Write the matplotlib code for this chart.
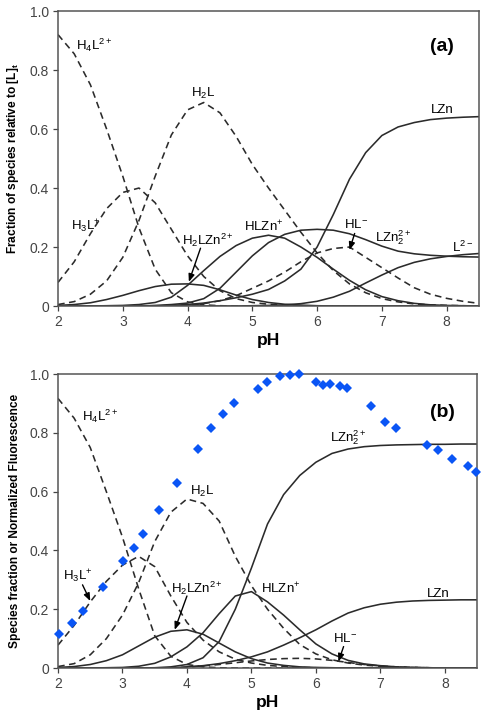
import matplotlib
matplotlib.use("Agg")
import matplotlib.pyplot as plt
from matplotlib.ticker import FuncFormatter

plt.rcParams['font.family'] = ['Liberation Sans', 'DejaVu Sans']
plt.rcParams['mathtext.fontset'] = 'custom'
plt.rcParams['mathtext.rm'] = 'Liberation Sans'
plt.rcParams['mathtext.it'] = 'Liberation Sans:italic'
plt.rcParams['mathtext.bf'] = 'Liberation Sans:bold'
plt.rcParams['mathtext.default'] = 'rm'
plt.rcParams['lines.solid_joinstyle'] = 'round'
plt.rcParams['lines.dash_joinstyle'] = 'round'

# ---------------- data ----------------
pH = [2.0, 2.25, 2.5, 2.75, 3.0, 3.25, 3.5, 3.75, 4.0, 4.25, 4.5, 4.75, 5.0, 5.25,
      5.5, 5.75, 6.0, 6.25, 6.5, 6.75, 7.0, 7.25, 7.5, 7.75, 8.0, 8.25, 8.5]

# panel (a)
a_H4L = [0.92, 0.855, 0.75, 0.60, 0.44, 0.265, 0.125, 0.045, 0.014, 0.004, 0.001, 0, 0, 0,
         0, 0, 0, 0, 0, 0, 0, 0, 0, 0, 0, 0, 0]
a_H3L = [0.08, 0.15, 0.245, 0.33, 0.385, 0.40, 0.35, 0.26, 0.17, 0.10, 0.052, 0.025, 0.012, 0.006,
         0.003, 0.001, 0, 0, 0, 0, 0, 0, 0, 0, 0, 0, 0]
a_H2L = [0.005, 0.015, 0.04, 0.085, 0.165, 0.29, 0.44, 0.58, 0.665, 0.69, 0.655, 0.575, 0.48, 0.40,
         0.325, 0.25, 0.18, 0.12, 0.075, 0.045, 0.025, 0.014, 0.007, 0.004, 0.002, 0.001, 0.0]
a_HL = [0, 0, 0, 0, 0, 0, 0, 0, 0.003, 0.008, 0.018, 0.035, 0.06, 0.085,
        0.115, 0.15, 0.18, 0.195, 0.20, 0.165, 0.13, 0.095, 0.062, 0.04, 0.026, 0.016, 0.009]
a_H2LZn = [0.002, 0.005, 0.011, 0.022, 0.036, 0.052, 0.066, 0.074, 0.075, 0.07, 0.055, 0.037, 0.022, 0.012,
           0.006, 0.003, 0.001, 0, 0, 0, 0, 0, 0, 0, 0, 0, 0]
a_HLZn = [0, 0, 0, 0.001, 0.002, 0.005, 0.012, 0.03, 0.07, 0.12, 0.168, 0.205, 0.23, 0.24,
          0.23, 0.20, 0.165, 0.125, 0.087, 0.055, 0.032, 0.018, 0.009, 0.004, 0.002, 0.001, 0]
a_LZn2 = [0, 0, 0, 0, 0, 0, 0.002, 0.005, 0.01, 0.025, 0.06, 0.115, 0.17, 0.215,
          0.243, 0.257, 0.26, 0.257, 0.245, 0.225, 0.203, 0.186, 0.177, 0.172, 0.169, 0.167, 0.166]
a_L = [0, 0, 0, 0, 0, 0, 0, 0, 0, 0, 0, 0, 0.001, 0.002,
       0.004, 0.008, 0.016, 0.03, 0.05, 0.078, 0.105, 0.13, 0.148, 0.16, 0.168, 0.174, 0.178]
a_LZn = [0, 0, 0, 0, 0, 0, 0, 0.002, 0.005, 0.01, 0.018, 0.028, 0.04, 0.056,
         0.085, 0.125, 0.20, 0.31, 0.43, 0.52, 0.578, 0.607, 0.622, 0.632, 0.637, 0.64, 0.642]

# panel (b)
b_H4L = [0.917, 0.85, 0.75, 0.60, 0.445, 0.27, 0.11, 0.04, 0.012, 0.004, 0.001, 0, 0, 0,
         0, 0, 0, 0, 0, 0, 0, 0, 0, 0, 0, 0, 0]
b_H3L = [0.078, 0.145, 0.225, 0.295, 0.35, 0.38, 0.345, 0.245, 0.155, 0.095, 0.055, 0.03, 0.017, 0.009,
         0.005, 0.002, 0.001, 0, 0, 0, 0, 0, 0, 0, 0, 0, 0]
b_H2L = [0.005, 0.015, 0.045, 0.1, 0.18, 0.29, 0.43, 0.53, 0.575, 0.56, 0.5, 0.38, 0.28, 0.2,
         0.135, 0.08, 0.048, 0.028, 0.017, 0.01, 0.006, 0.003, 0.002, 0.001, 0, 0, 0]
b_HL = [0, 0, 0, 0, 0, 0, 0, 0, 0.003, 0.007, 0.012, 0.018, 0.024, 0.029,
        0.032, 0.033, 0.031, 0.026, 0.019, 0.012, 0.007, 0.004, 0.002, 0.001, 0, 0, 0]
b_H2LZn = [0.002, 0.005, 0.012, 0.025, 0.045, 0.075, 0.105, 0.125, 0.13, 0.115, 0.085, 0.055, 0.032, 0.017,
           0.009, 0.004, 0.002, 0.001, 0, 0, 0, 0, 0, 0, 0, 0, 0]
b_HLZn = [0, 0, 0, 0.001, 0.002, 0.006, 0.016, 0.038, 0.072, 0.12, 0.185, 0.245, 0.26, 0.225,
          0.18, 0.13, 0.082, 0.048, 0.026, 0.014, 0.008, 0.004, 0.002, 0.001, 0, 0, 0]
b_LZn2 = [0, 0, 0, 0, 0, 0, 0.001, 0.004, 0.012, 0.035, 0.09, 0.2, 0.34, 0.49,
          0.59, 0.655, 0.70, 0.73, 0.745, 0.753, 0.757, 0.759, 0.76, 0.761, 0.761, 0.762, 0.762]
b_LZn = [0, 0, 0, 0, 0, 0, 0, 0, 0.004, 0.008, 0.015, 0.025, 0.038, 0.055,
         0.078, 0.103, 0.13, 0.16, 0.187, 0.205, 0.217, 0.224, 0.228, 0.23, 0.231, 0.232, 0.232]

# normalized fluorescence (panel b)
fl_pH = [2.02, 2.21, 2.38, 2.69, 3.01, 3.18, 3.32, 3.57, 3.85, 4.17, 4.38, 4.56, 4.73, 5.10,
         5.24, 5.44, 5.60, 5.74, 6.00, 6.11, 6.22, 6.37, 6.48, 6.85, 7.07, 7.24, 7.73, 7.90,
         8.11, 8.36, 8.48]
fl_val = [0.115, 0.152, 0.194, 0.277, 0.365, 0.41, 0.455, 0.536, 0.629, 0.746, 0.815, 0.863,
          0.90, 0.95, 0.972, 0.995, 0.998, 0.999, 0.974, 0.964, 0.967, 0.96, 0.952, 0.89,
          0.837, 0.816, 0.758, 0.743, 0.71, 0.688, 0.668]

xticks = [2, 3, 4, 5, 6, 7, 8]
yticks = [0, 0.2, 0.4, 0.6, 0.8, 1.0]

# ---------------- style ----------------
LC = '#2b2b2b'
LW = 1.15
DASH = (4.2, 2.8)
FS = 9.5

fig = plt.figure(figsize=(4.88, 7.17), dpi=100)
ax1 = fig.add_axes([0.1189, 0.5732, 0.8627, 0.4114])
ax2 = fig.add_axes([0.1189, 0.0683, 0.8586, 0.4100])


def yfmt(v, _):
    return '0' if abs(v) < 1e-9 else f'{v:.1f}'


def style(ax, ylabel):
    ax.set_xlim(2, 8.5)
    ax.set_ylim(0, 1.0)
    ax.set_xticks(xticks)
    ax.set_yticks(yticks)
    ax.yaxis.set_major_formatter(FuncFormatter(yfmt))
    ax.tick_params(direction='out', length=3.5, width=0.9, colors='#444444',
                   labelsize=10, labelcolor='#444444', pad=3)
    for s in ax.spines.values():
        s.set_color('#555555')
        s.set_linewidth(1.1)
    ax.set_xlabel('pH', fontsize=12.5, fontweight='bold', labelpad=3)
    ax.set_ylabel(ylabel, fontsize=8.6, fontweight='bold', labelpad=6)


def dashed(ax, y):
    ax.plot(pH, y, color=LC, lw=LW, dashes=DASH, clip_on=True)


def solid(ax, y):
    ax.plot(pH, y, color=LC, lw=LW, clip_on=True)


arrow_kw = dict(arrowstyle='-|>,head_length=0.45,head_width=0.18', color='black', lw=1.0,
                shrinkA=0, shrinkB=0)

# ---- panel (a)
for y in (a_H4L, a_H3L, a_H2L, a_HL):
    dashed(ax1, y)
for y in (a_H2LZn, a_HLZn, a_LZn2, a_L, a_LZn):
    solid(ax1, y)
style(ax1, 'Fraction of species relative to [L]$_\\mathbf{t}$')

ax1.text(2.28, 0.885, 'H$_4$L$^{2+}$', fontsize=FS, va='center', ha='left')
ax1.text(4.24, 0.72, 'H$_2$L', fontsize=FS, va='center', ha='center')
ax1.text(2.43, 0.27, 'H$_3$L$^{+}$', fontsize=FS, va='center', ha='center')
ax1.text(4.32, 0.222, 'H$_2$LZn$^{2+}$', fontsize=FS, va='center', ha='center')
ax1.text(5.17, 0.27, 'HLZn$^{+}$', fontsize=FS, va='center', ha='center')
ax1.text(6.6, 0.275, 'HL$^{-}$', fontsize=FS, va='center', ha='center')
ax1.text(7.17, 0.232, 'LZn$_2^{2+}$', fontsize=FS, va='center', ha='center')
ax1.text(8.25, 0.2, 'L$^{2-}$', fontsize=FS, va='center', ha='center')
ax1.text(7.93, 0.665, 'LZn', fontsize=FS, va='center', ha='center')
ax1.text(7.92, 0.88, '(a)', fontsize=14, fontweight='bold', va='center', ha='center')
ax1.annotate('', xy=(4.02, 0.082), xytext=(4.2, 0.196), arrowprops=arrow_kw)
ax1.annotate('', xy=(6.5, 0.19), xytext=(6.58, 0.246), arrowprops=arrow_kw)

# ---- panel (b)
for y in (b_H4L, b_H3L, b_H2L, b_HL):
    dashed(ax2, y)
for y in (b_H2LZn, b_HLZn, b_LZn2, b_LZn):
    solid(ax2, y)
ax2.plot(fl_pH, fl_val, linestyle='none', marker='D', ms=5.6, color='#0a55f5',
         markeredgewidth=0, clip_on=False, zorder=5)
style(ax2, 'Species fraction or Normalized Fluorescence')

ax2.text(2.37, 0.855, 'H$_4$L$^{2+}$', fontsize=FS, va='center', ha='left')
ax2.text(4.23, 0.6, 'H$_2$L', fontsize=FS, va='center', ha='center')
ax2.text(2.3, 0.31, 'H$_3$L$^{+}$', fontsize=FS, va='center', ha='center')
ax2.text(4.16, 0.27, 'H$_2$LZn$^{2+}$', fontsize=FS, va='center', ha='center')
ax2.text(5.46, 0.27, 'HLZn$^{+}$', fontsize=FS, va='center', ha='center')
ax2.text(6.5, 0.785, 'LZn$_2^{2+}$', fontsize=FS, va='center', ha='center')
ax2.text(7.9, 0.252, 'LZn', fontsize=FS, va='center', ha='center')
ax2.text(6.46, 0.1, 'HL$^{-}$', fontsize=FS, va='center', ha='center')
ax2.text(7.96, 0.87, '(b)', fontsize=14, fontweight='bold', va='center', ha='center')
ax2.annotate('', xy=(2.5, 0.228), xytext=(2.38, 0.283), arrowprops=arrow_kw)
ax2.annotate('', xy=(3.81, 0.13), xytext=(4.0, 0.245), arrowprops=arrow_kw)
ax2.annotate('', xy=(6.35, 0.022), xytext=(6.43, 0.073), arrowprops=arrow_kw)

fig.savefig('out.png', dpi=100)
